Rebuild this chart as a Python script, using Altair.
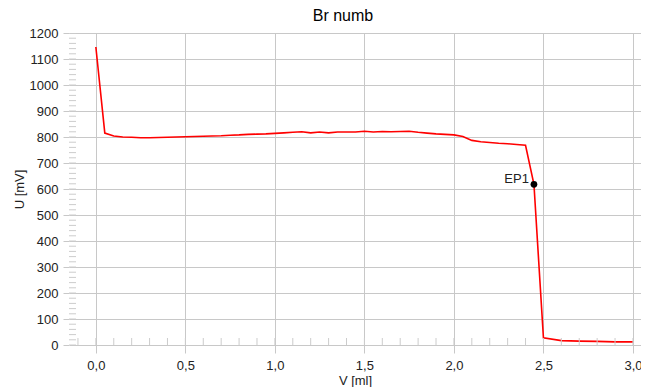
import altair as alt
import pandas as pd

# Titration curve data
V = [0.0, 0.05, 0.1, 0.15, 0.2, 0.25, 0.3, 0.35, 0.4, 0.45, 0.5, 0.55, 0.6, 0.65, 0.7,
     0.75, 0.8, 0.85, 0.9, 0.95, 1.0, 1.05, 1.1, 1.15, 1.2, 1.25, 1.3, 1.35, 1.4, 1.45,
     1.5, 1.55, 1.6, 1.65, 1.7, 1.75, 1.8, 1.85, 1.9, 1.95, 2.0, 2.05, 2.1, 2.15, 2.2,
     2.25, 2.3, 2.35, 2.4, 2.447, 2.5, 2.6, 2.7, 2.8, 2.9, 3.0]
U = [1146, 815, 804, 800, 799, 797, 797, 798, 799, 800, 801, 802, 803, 804, 805,
     807, 808, 810, 811, 812, 814, 816, 818, 820, 816, 819, 816, 819, 819, 819,
     822, 819, 821, 820, 821, 822, 818, 815, 812, 810, 808, 802, 787, 782, 779,
     776, 774, 771, 768, 618, 28, 17, 15, 14, 12, 12]

EP_V = [2.447]
EP_U = [618]
EP_LABEL = ["EP1"]

X_MAJOR = [0.0, 0.5, 1.0, 1.5, 2.0, 2.5, 3.0]
Y_MAJOR = [0, 100, 200, 300, 400, 500, 600, 700, 800, 900, 1000, 1100, 1200]
X_MINOR = [round(-0.1 + 0.1 * i, 1) for i in range(32)]
Y_MINOR = [20 * i for i in range(61)]
X_MIN, X_MAX = -0.15, 3.045
Y_MIN, Y_MAX = 0, 1200

df = pd.DataFrame({"V": V, "U": U})
ep = pd.DataFrame({"V": EP_V, "U": EP_U, "label": EP_LABEL})
xm = pd.DataFrame({"V": X_MINOR})
ym = pd.DataFrame({"U": Y_MINOR})

W, H = 572, 312
FONT = "Liberation Sans"
GRID = "#c8c8c8"
MINOR = "#cccccc"

xscale = alt.Scale(domain=[X_MIN, X_MAX], nice=False, zero=False)
yscale = alt.Scale(domain=[Y_MIN, Y_MAX], nice=False, zero=False)

x_axis = alt.Axis(values=X_MAJOR, labelExpr="replace(format(datum.value, '.1f'), '.', ',')",
                  grid=True, gridColor=GRID, tickColor=GRID, tickSize=8, domain=False,
                  labelFont=FONT, labelFontSize=13, labelColor="#222222", labelPadding=6,
                  labelOverlap=False,
                  title="V [ml]", titleFont=FONT, titleFontSize=13, titleFontWeight="normal",
                  titleColor="#222222", titlePadding=2)
y_axis = alt.Axis(values=Y_MAJOR, format="d", grid=True, gridColor=GRID, tickColor=GRID,
                  tickSize=6, domain=False, labelFont=FONT, labelFontSize=13,
                  labelColor="#222222", labelPadding=5, labelOverlap=False,
                  title="U [mV]", titleFont=FONT, titleFontSize=13,
                  titleFontWeight="normal", titleColor="#222222", titlePadding=3)

line = alt.Chart(df).mark_line(color="#ff0000", strokeWidth=1.6).encode(
    x=alt.X("V:Q", scale=xscale, axis=x_axis),
    y=alt.Y("U:Q", scale=yscale, axis=y_axis),
)

x_minor = alt.Chart(xm).mark_tick(color=MINOR, size=14, thickness=1, clip=True, opacity=1,
                                  orient="vertical").encode(
    x=alt.X("V:Q", scale=xscale, axis=x_axis),
    y=alt.datum(Y_MIN, scale=yscale, axis=y_axis),
)
y_minor = alt.Chart(ym).mark_tick(color=MINOR, size=14, thickness=1, clip=True, opacity=1,
                                  orient="horizontal").encode(
    y=alt.Y("U:Q", scale=yscale, axis=y_axis),
    x=alt.datum(X_MIN, scale=xscale, axis=x_axis),
)

ep_point = alt.Chart(ep).mark_circle(color="black", size=45, opacity=1).encode(
    x=alt.X("V:Q", scale=xscale, axis=x_axis), y=alt.Y("U:Q", scale=yscale, axis=y_axis))
ep_text = alt.Chart(ep).mark_text(align="right", baseline="alphabetic", dx=-5, dy=-1,
                                  font=FONT, fontSize=13, color="#222222").encode(
    x=alt.X("V:Q", scale=xscale, axis=x_axis), y=alt.Y("U:Q", scale=yscale, axis=y_axis),
    text="label:N")

chart = alt.layer(line, x_minor, y_minor, ep_point, ep_text).properties(
    width=W, height=H,
    title=alt.TitleParams("Br numb", font=FONT, fontSize=16, fontWeight="normal",
                          color="black", offset=3, dx=-12),
    autosize=alt.AutoSizeParams(type="none"),
    padding={"left": 61, "top": 25, "right": 0, "bottom": 50},
).configure_view(stroke=None)

chart.save("out.html", embed_options={"renderer": "svg", "actions": False})
